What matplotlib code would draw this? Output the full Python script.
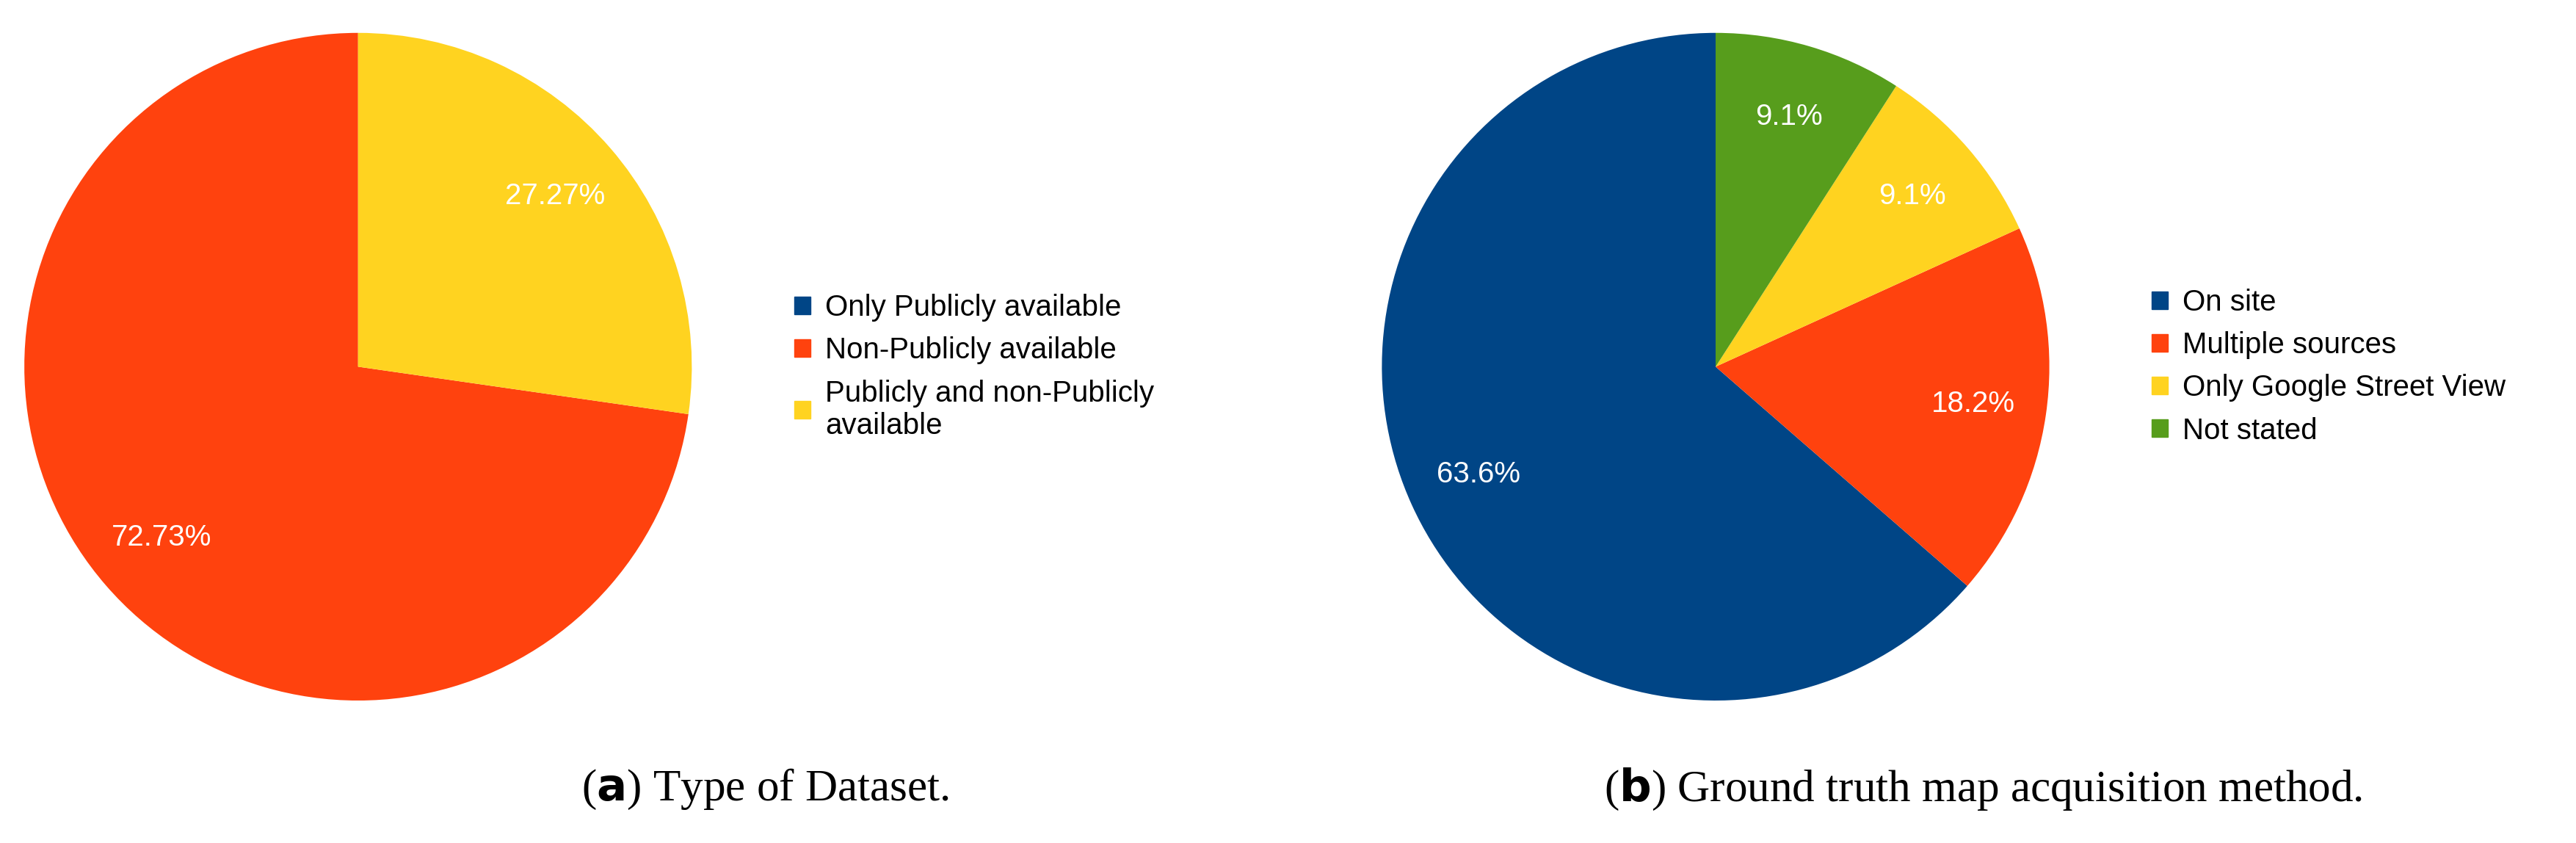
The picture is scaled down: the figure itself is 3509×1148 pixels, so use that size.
import matplotlib.pyplot as plt
from matplotlib.patches import Patch

colors = ['#004586', '#ff420e', '#ffd320', '#579d1c']

dataset_labels = ['Only Publicly available', 'Non-Publicly available',
                  'Publicly and non-Publicly\navailable']
dataset_values = [0, 72.73, 27.27]

truth_labels = ['On site', 'Multiple sources', 'Only Google Street View', 'Not stated']
truth_values = [63.6, 18.2, 9.1, 9.1]

W, H = 35.09, 11.48
fig = plt.figure(figsize=(W, H), dpi=100)

def pie_axes(cx, cy, r):
    w = 2 * r * H / W
    return fig.add_axes([cx - w / 2, cy - r, w, 2 * r])

def fmt(decimals):
    def f(p):
        return '' if p < 0.5 else ('%.' + str(decimals) + 'f%%') % p
    return f

def draw(ax, values, labels, decimals, legend_x):
    wedges, texts, autotexts = ax.pie(values, colors=colors[:len(values)], startangle=90,
                                      counterclock=True, autopct=fmt(decimals),
                                      pctdistance=0.78, normalize=True)
    ax.set_xlim(-1, 1)
    ax.set_ylim(-1, 1)
    for t in autotexts:
        t.set_color('white')
        t.set_fontsize(29)
        t.set_family('Liberation Sans')
    handles = [Patch(color=c) for c in colors[:len(labels)]]
    fig.legend(handles, labels, loc='center left', bbox_to_anchor=(legend_x, 0.565),
               frameon=False, handlelength=0.55, handleheight=0.55, handletextpad=0.5,
               labelspacing=0.5, prop={'family': 'Liberation Sans', 'size': 29})

ax1 = pie_axes(0.139, 0.565, 0.396)
draw(ax1, dataset_values, dataset_labels, 2, 0.298)
ax2 = pie_axes(0.666, 0.565, 0.396)
draw(ax2, truth_values, truth_labels, 1, 0.825)

fig.text(0.297, 0.064, r'($\mathbf{a}$) Type of Dataset.', ha='center', va='center',
         fontsize=44, family='Liberation Serif')
fig.text(0.77, 0.064, r'($\mathbf{b}$) Ground truth map acquisition method.', ha='center',
         va='center', fontsize=44, family='Liberation Serif')

fig.savefig('out.png', dpi=100)
